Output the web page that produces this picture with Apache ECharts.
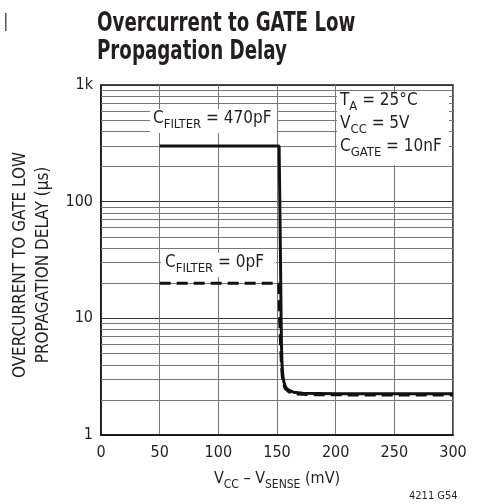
<!DOCTYPE html>
<html><head><meta charset="utf-8">
<script src="https://cdn.jsdelivr.net/npm/echarts@6/dist/echarts.min.js"></script>
<style>html,body{margin:0;padding:0;background:#fff}#c{width:479px;height:504px}</style>
</head><body><div id="c"></div>
<script>
const FONT = "'Liberation Sans Narrow', 'DejaVu Sans Condensed', 'Roboto Condensed', sans-serif";
const xTicks = [0, 50, 100, 150, 200, 250, 300];
const yTickLabels = {1: '1', 10: '10', 100: '100', 1000: '1k'};
const minorGridValues = [2,3,4,5,6,7,8,9,20,30,40,50,60,70,80,90,200,300,400,500,600,700,800,900];
const filter470 = [[50,300],[151.8,300],[152.4,100],[153,30],[153.5,10],[153.8,6],[154.3,4],[155,3.2],[156,2.8],[157.5,2.55],[160,2.42],[164,2.33],[172,2.28],[200,2.26],[300,2.26]];
const filter0 = [[50,20],[151.5,20],[152.2,10],[153,6],[153.8,4],[154.5,3.2],[155.5,2.75],[157,2.5],[160,2.35],[166,2.25],[180,2.21],[300,2.2]];

const chart = echarts.init(document.getElementById('c'), null, {renderer:'canvas'});
const richLabel = {
  m: {fontSize: 17, fontFamily: FONT, fill: '#231f20', verticalAlign: 'bottom', lineHeight: 22},
  s: {fontSize: 13, fontFamily: FONT, fill: '#231f20', verticalAlign: 'bottom', lineHeight: 16, padding: [0,0,-4,0]}
};
const richLabel3 = {
  m: {fontSize: 17, fontFamily: FONT, fill: '#231f20', verticalAlign: 'bottom', lineHeight: 23},
  s: {fontSize: 13, fontFamily: FONT, fill: '#231f20', verticalAlign: 'bottom', lineHeight: 16, padding: [0,0,-4,0]}
};
chart.setOption({
  animation: false,
  backgroundColor: '#fff',
  textStyle: {fontFamily: FONT},
  grid: {left: 101, right: 26, top: 85, bottom: 69, show: true, borderColor: '#111', borderWidth: 1.5, backgroundColor: 'transparent'},
  xAxis: {
    type: 'value', min: 0, max: 300, interval: 50,
    axisLine: {show: true, lineStyle: {color: '#111', width: 1.5}},
    axisTick: {show: false},
    axisLabel: {color: '#231f20', fontSize: 16, margin: 10, fontFamily: FONT},
    splitLine: {show: true, lineStyle: {color: '#777', width: 1}},
    name: '{m|V}{s|CC}{m| – V}{s|SENSE}{m| (mV)}',
    nameLocation: 'middle', nameGap: 32,
    nameTextStyle: {
      rich: {
        m: {fontSize: 16, fontFamily: FONT, color: '#231f20', verticalAlign: 'bottom', lineHeight: 20},
        s: {fontSize: 12, fontFamily: FONT, color: '#231f20', verticalAlign: 'bottom', lineHeight: 14, padding: [0,0,-4,0]}
      }
    }
  },
  yAxis: {
    type: 'log', logBase: 10, min: 1, max: 1000,
    axisLine: {show: true, lineStyle: {color: '#111', width: 1.5}},
    axisTick: {show: false},
    axisLabel: {color: '#231f20', fontSize: 16, margin: 8, fontFamily: FONT,
      formatter: (v) => yTickLabels[Math.round(v)] || ''},
    splitLine: {show: true, lineStyle: {color: '#333', width: 1}},
    name: 'OVERCURRENT TO GATE LOW\nPROPAGATION DELAY (µs)',
    nameLocation: 'middle', nameGap: 31, nameRotate: 90,
    nameTextStyle: {fontSize: 17, lineHeight: 23, color: '#231f20', fontFamily: FONT, align: 'center', padding: [0, 10, 0, 0]}
  },
  series: [
    {
      type: 'line', name: '470pF', data: filter470, showSymbol: false, symbol: 'none',
      lineStyle: {color: '#111', width: 3}, z: 5,
      markLine: {
        silent: true, symbol: 'none', label: {show: false},
        lineStyle: {color: '#777', width: 1, type: 'solid'},
        data: minorGridValues.map(v => ({yAxis: v})),
        z: 1
      }
    },
    {
      type: 'line', name: '0pF', data: filter0, showSymbol: false, symbol: 'none',
      lineStyle: {color: '#111', width: 3, type: [11, 6]}, z: 4
    }
  ],
  graphic: [
    {type: 'text', x: 97, y: 10, scaleX: 0.78, scaleY: 1, z: 11, style: {
      text: 'Overcurrent to GATE Low\nPropagation Delay',
      fontFamily: FONT, fontWeight: 'bold', fontSize: 26, lineHeight: 28, fill: '#231f20'
    }},
    {type: 'rect', left: 5, top: 13, shape: {width: 1.5, height: 18}, style: {fill: '#555'}},
    {type: 'rect', left: 150, top: 109, shape: {width: 127, height: 24}, style: {fill: '#fff'}, z: 10},
    {type: 'text', left: 153, top: 110, z: 11, style: {text: '{m|C}{s|FILTER}{m| = 470pF}', rich: richLabel}},
    {type: 'rect', left: 161, top: 253, shape: {width: 115, height: 24}, style: {fill: '#fff'}, z: 10},
    {type: 'text', left: 165, top: 254, z: 11, style: {text: '{m|C}{s|FILTER}{m| = 0pF}', rich: richLabel}},
    {type: 'rect', left: 337, top: 93, shape: {width: 112, height: 72}, style: {fill: '#fff'}, z: 10},
    {type: 'text', left: 340, top: 92, z: 11, style: {
      text: '{m|T}{s|A}{m| = 25°C}\n{m|V}{s|CC}{m| = 5V}\n{m|C}{s|GATE}{m| = 10nF}', rich: richLabel3}},
    {type: 'text', left: 409, top: 491, z: 11, style: {text: '4211 G54', fontSize: 11, fontFamily: FONT, fill: '#231f20'}}
  ]
});
</script></body></html>
